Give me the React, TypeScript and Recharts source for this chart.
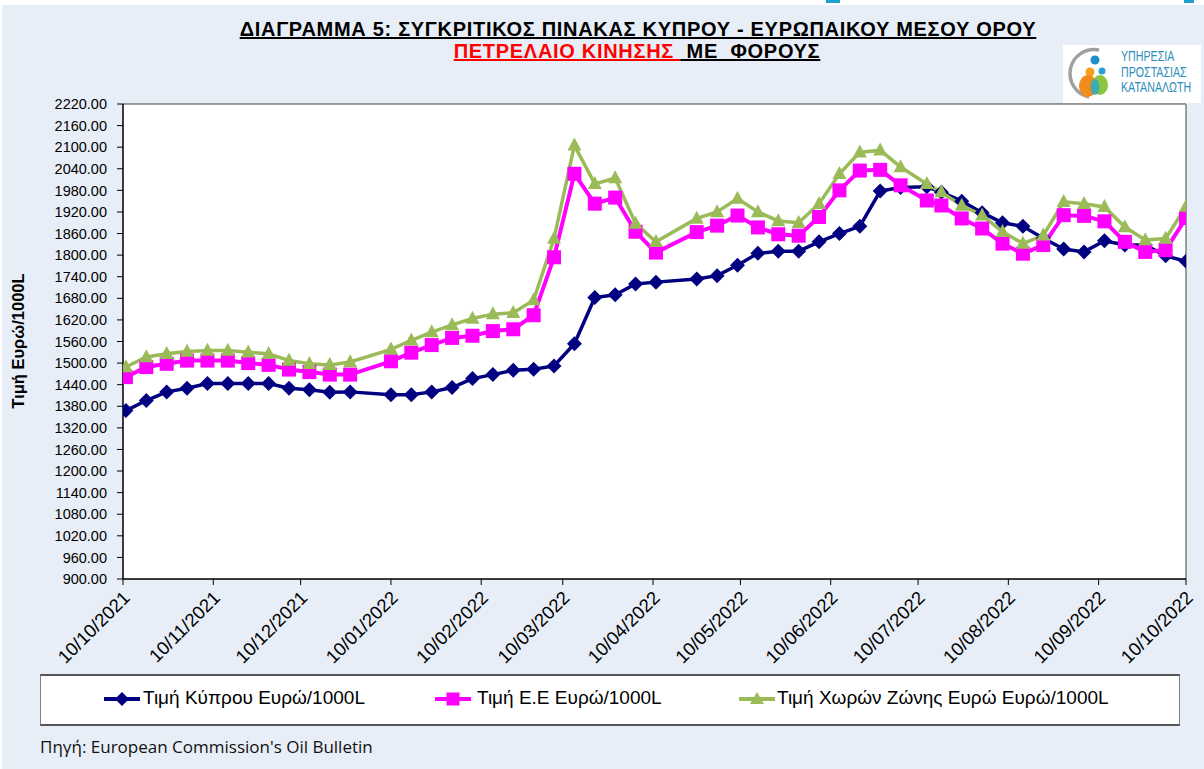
import React from "react";
import { LineChart, Line, XAxis, YAxis, CartesianGrid, ReferenceLine } from "recharts";

const DATES = [
  "2021-10-11", "2021-10-18", "2021-10-25", "2021-11-01", "2021-11-08", "2021-11-15", "2021-11-22", "2021-11-29",
  "2021-12-06", "2021-12-13", "2021-12-20", "2021-12-27",
  "2022-01-10", "2022-01-17", "2022-01-24", "2022-01-31", "2022-02-07", "2022-02-14", "2022-02-21", "2022-02-28",
  "2022-03-07", "2022-03-14", "2022-03-21", "2022-03-28", "2022-04-04", "2022-04-11",
  "2022-04-25", "2022-05-02", "2022-05-09", "2022-05-16", "2022-05-23", "2022-05-30", "2022-06-06", "2022-06-13",
  "2022-06-20", "2022-06-27", "2022-07-04", "2022-07-13", "2022-07-18", "2022-07-25", "2022-08-01", "2022-08-08",
  "2022-08-15", "2022-08-22", "2022-08-29", "2022-09-05", "2022-09-12", "2022-09-19", "2022-09-26", "2022-10-03",
  "2022-10-10",
];

const CYPRUS = [
  1368, 1396, 1420, 1430, 1443, 1443, 1443, 1443, 1430, 1426, 1419, 1420,
  1412, 1412, 1420, 1432, 1457, 1468, 1480, 1483, 1492, 1554, 1682, 1690, 1720, 1725,
  1734, 1743, 1772, 1805, 1811, 1811, 1837, 1860, 1880, 1978, 1988, 1990, 1975, 1950,
  1918, 1890, 1880, 1847, 1817, 1809, 1840, 1828, 1828, 1798, 1783,
];

const EU = [
  1461, 1489, 1498, 1507, 1507, 1507, 1500, 1495, 1482, 1475, 1468, 1468,
  1505, 1529, 1550, 1570, 1576, 1589, 1594, 1633, 1794, 2026, 1943, 1960, 1865, 1807,
  1864, 1882, 1910, 1877, 1858, 1854, 1906, 1980, 2035, 2037, 1994, 1952, 1938, 1902,
  1874, 1832, 1804, 1828, 1911, 1909, 1894, 1837, 1809, 1814, 1903,
];

const EUROZONE = [
  1489, 1517, 1526, 1532, 1535, 1535, 1530, 1526, 1507, 1498, 1495, 1503,
  1538, 1563, 1586, 1606, 1624, 1636, 1640, 1675, 1846, 2105, 1998, 2014, 1888, 1837,
  1902, 1920, 1957, 1920, 1895, 1890, 1943, 2026, 2086, 2091, 2045, 1998, 1975, 1938,
  1911, 1865, 1832, 1855, 1948, 1943, 1934, 1878, 1842, 1846, 1935,
];

const SERIES_NAMES = [
  "Τιμή Κύπρου Ευρώ/1000L",
  "Τιμή Ε.Ε Ευρώ/1000L",
  "Τιμή Χωρών Ζώνης Ευρώ Ευρώ/1000L",
];

const X_TICK_DATES = [
  "2021-10-10", "2021-11-10", "2021-12-10", "2022-01-10", "2022-02-10", "2022-03-10", "2022-04-10",
  "2022-05-10", "2022-06-10", "2022-07-10", "2022-08-10", "2022-09-10", "2022-10-10",
];

const Y_TICKS = [
  900, 960, 1020, 1080, 1140, 1200, 1260, 1320, 1380, 1440, 1500, 1560, 1620, 1680, 1740, 1800,
  1860, 1920, 1980, 2040, 2100, 2160, 2220,
];

const NAVY = "#000080";
const PINK = "#FF00FF";
const GREEN = "#9BBB59";
const FONT = "'Liberation Sans', Arial, sans-serif";

const toDay = (s: string) => {
  const [y, m, d] = s.split("-").map(Number);
  return Date.UTC(y, m - 1, d) / 86400000;
};
const pad = (n: number) => (n < 10 ? "0" + n : "" + n);
const fmtDay = (t: number) => {
  const d = new Date(t * 86400000);
  return `${pad(d.getUTCDate())}/${pad(d.getUTCMonth() + 1)}/${d.getUTCFullYear()}`;
};

const data = DATES.map((d, i) => ({ t: toDay(d), cyprus: CYPRUS[i], eu: EU[i], ez: EUROZONE[i] }));
const xTicks = X_TICK_DATES.map(toDay);

const Diamond = (props: any) => {
  const { cx, cy, index } = props;
  if (cx == null || cy == null) return <g key={`dm-${index}`} />;
  const r = 7.5;
  return (
    <polygon key={`dm-${index}`} points={`${cx},${cy - r} ${cx + r},${cy} ${cx},${cy + r} ${cx - r},${cy}`} fill={NAVY} />
  );
};
const Square = (props: any) => {
  const { cx, cy, index } = props;
  if (cx == null || cy == null) return <g key={`sq-${index}`} />;
  const s = 14;
  return <rect key={`sq-${index}`} x={cx - s / 2} y={cy - s / 2} width={s} height={s} fill={PINK} />;
};
const Triangle = (props: any) => {
  const { cx, cy, index } = props;
  if (cx == null || cy == null) return <g key={`tr-${index}`} />;
  const h = 13;
  const w = 14;
  return (
    <polygon
      key={`tr-${index}`}
      points={`${cx},${cy - h * 0.6} ${cx + w / 2},${cy + h * 0.4} ${cx - w / 2},${cy + h * 0.4}`}
      fill={GREEN}
    />
  );
};

const XTick = (props: any) => {
  const { x, y, payload } = props;
  const ax = x + 8;
  const ay = y + 12;
  return (
    <text
      x={ax}
      y={ay}
      transform={`rotate(-45, ${ax}, ${ay})`}
      textAnchor="end"
      fontSize={18.5}
      fontFamily={FONT}
      fill="#000"
    >
      {fmtDay(payload.value)}
    </text>
  );
};

const LegendMarker = ({ kind, color }: { kind: string; color: string }) => (
  <svg width={36} height={16} style={{ display: "block" }}>
    <line x1={0} y1={8} x2={36} y2={8} stroke={color} strokeWidth={4} />
    {kind === "diamond" && <polygon points="18,1 25,8 18,15 11,8" fill={color} />}
    {kind === "square" && <rect x={11.5} y={1.5} width={13} height={13} fill={color} />}
    {kind === "triangle" && <polygon points="18,1 25,13 11,13" fill={color} />}
  </svg>
);

const LEGEND_POS = [
  { marker: 104, text: 143, kind: "diamond", color: NAVY },
  { marker: 435, text: 477, kind: "square", color: PINK },
  { marker: 739, text: 777, kind: "triangle", color: GREEN },
];

export default function App() {
  return (
    <div style={{ position: "absolute", left: 0, top: 0, width: 1204, height: 769, background: "#fff", overflow: "hidden" }}>
      <div style={{ position: "absolute", left: 2, top: 5, width: 1202, height: 764, background: "#E8EEF7" }} />
      <div style={{ position: "absolute", left: 826, top: 0, width: 14, height: 3, background: "#1EA0D2" }} />
      <div style={{ position: "absolute", left: 1184, top: 0, width: 10, height: 3, background: "#1EA0D2" }} />

      {/* Titles */}
      <div
        style={{
          position: "absolute",
          left: 0,
          width: 1276,
          top: 18,
          textAlign: "center",
          fontFamily: FONT,
          fontWeight: "bold",
          fontSize: 20,
          letterSpacing: 0.7,
          color: "#000",
          textDecoration: "underline",
          whiteSpace: "pre",
        }}
      >
        ΔΙΑΓΡΑΜΜΑ 5: ΣΥΓΚΡΙΤΙΚΟΣ ΠΙΝΑΚΑΣ ΚΥΠΡΟΥ - ΕΥΡΩΠΑΙΚΟΥ ΜΕΣΟΥ ΟΡΟΥ
      </div>
      <div
        style={{
          position: "absolute",
          left: 0,
          width: 1274,
          top: 40,
          textAlign: "center",
          fontFamily: FONT,
          fontWeight: "bold",
          fontSize: 20,
          letterSpacing: 0.7,
          whiteSpace: "pre",
        }}
      >
        <span style={{ color: "#FF0000", textDecoration: "underline" }}>ΠΕΤΡΕΛΑΙΟ ΚΙΝΗΣΗΣ </span>
        <span style={{ color: "#000", textDecoration: "underline" }}> ΜΕ  ΦΟΡΟΥΣ</span>
      </div>

      {/* Logo */}
      <div style={{ position: "absolute", left: 1063, top: 45, width: 138, height: 58, background: "#fff" }}>
        <svg width={54} height={58} style={{ position: "absolute", left: 2, top: 0 }}>
          <path d="M 34 5 A 24 24 0 0 0 24 52" stroke="#a0a0a0" strokeWidth={3.5} fill="none" />
          <circle cx={30} cy={15} r={4.5} fill="#1E8FCB" />
          <circle cx={25} cy={27} r={4.5} fill="#F4A21B" />
          <circle cx={37} cy={26} r={3.5} fill="#2A9FD6" />
          <ellipse cx={23} cy={41} rx={9} ry={11} fill="#F28C1E" />
          <ellipse cx={35} cy={40} rx={8} ry={10} fill="#8CC63F" />
          <ellipse cx={30} cy={42} rx={4.5} ry={8} fill="#2AA7C9" opacity={0.8} />
        </svg>
        <div
          style={{
            position: "absolute",
            left: 58,
            top: 4,
            fontFamily: FONT,
            fontSize: 14,
            lineHeight: "15.5px",
            color: "#2A8DBA",
            transform: "scaleX(0.76)",
            transformOrigin: "left top",
            whiteSpace: "nowrap",
          }}
        >
          <div>ΥΠΗΡΕΣΙΑ</div>
          <div>ΠΡΟΣΤΑΣΙΑΣ</div>
          <div>ΚΑΤΑΝΑΛΩΤΗ</div>
        </div>
      </div>

      {/* Y axis title */}
      <div
        style={{
          position: "absolute",
          left: 18,
          top: 341,
          transform: "translate(-50%, -50%) rotate(-90deg)",
          fontFamily: FONT,
          fontWeight: "bold",
          fontSize: 16.5,
          whiteSpace: "nowrap",
          color: "#000",
        }}
      >
        Τιμή Ευρώ/1000L
      </div>

      <div style={{ position: "absolute", left: 0, top: 0 }}>
        <LineChart width={1204} height={680} data={data} margin={{ top: 104, right: 18, left: 30, bottom: 0 }}>
          <rect x={123} y={104} width={1063} height={475} fill="#fff" />
          <CartesianGrid horizontal={false} vertical={true} stroke="#D4D4D4" strokeWidth={1.5} />
          <CartesianGrid horizontal={true} vertical={false} stroke="#C4C4C4" strokeWidth={1.5} />
          <XAxis
            dataKey="t"
            type="number"
            domain={[xTicks[0], xTicks[xTicks.length - 1]]}
            ticks={xTicks}
            interval={0}
            height={101}
            tick={<XTick />}
            tickSize={6}
            axisLine={{ stroke: "#000", strokeWidth: 1.5 }}
            tickLine={{ stroke: "#000" }}
            allowDataOverflow
          />
          <YAxis
            type="number"
            domain={[900, 2220]}
            ticks={Y_TICKS}
            interval={0}
            width={93}
            tickFormatter={(v: number) => v.toFixed(2)}
            tick={{ fontSize: 14.5, fontFamily: FONT, fill: "#000" }}
            tickSize={6}
            tickMargin={10}
            axisLine={{ stroke: "#000", strokeWidth: 1.5 }}
            tickLine={{ stroke: "#000" }}
            allowDataOverflow
          />
          <ReferenceLine y={2220} stroke="#808080" strokeWidth={1.5} />
          <ReferenceLine x={xTicks[xTicks.length - 1]} stroke="#808080" strokeWidth={1.5} />
          <Line
            dataKey="cyprus"
            stroke={NAVY}
            strokeWidth={3.5}
            dot={Diamond}
            activeDot={false}
            isAnimationActive={false}
            type="linear"
          />
          <Line
            dataKey="eu"
            stroke={PINK}
            strokeWidth={4}
            dot={Square}
            activeDot={false}
            isAnimationActive={false}
            type="linear"
          />
          <Line
            dataKey="ez"
            stroke={GREEN}
            strokeWidth={3.5}
            dot={Triangle}
            activeDot={false}
            isAnimationActive={false}
            type="linear"
          />
        </LineChart>
      </div>

      {/* Legend */}
      <div
        style={{
          position: "absolute",
          left: 40,
          top: 674,
          width: 1138,
          height: 48,
          background: "#fff",
          border: "1px solid #7f7f7f",
          borderTop: "2px solid #555",
          borderBottom: "2px solid #555",
        }}
      />
      {LEGEND_POS.map((p, i) => (
        <React.Fragment key={i}>
          <div style={{ position: "absolute", left: p.marker, top: 691 }}>
            <LegendMarker kind={p.kind} color={p.color} />
          </div>
          <div
            style={{
              position: "absolute",
              left: p.text,
              top: 687,
              fontFamily: FONT,
              fontSize: 19,
              color: "#000",
              whiteSpace: "nowrap",
            }}
          >
            {SERIES_NAMES[i]}
          </div>
        </React.Fragment>
      ))}

      <div
        style={{
          position: "absolute",
          left: 40,
          top: 735,
          fontFamily: "'Open Sans', " + FONT,
          fontSize: 17,
          color: "#111",
          whiteSpace: "nowrap",
        }}
      >
        Πηγή: European Commission's Oil Bulletin
      </div>
    </div>
  );
}
